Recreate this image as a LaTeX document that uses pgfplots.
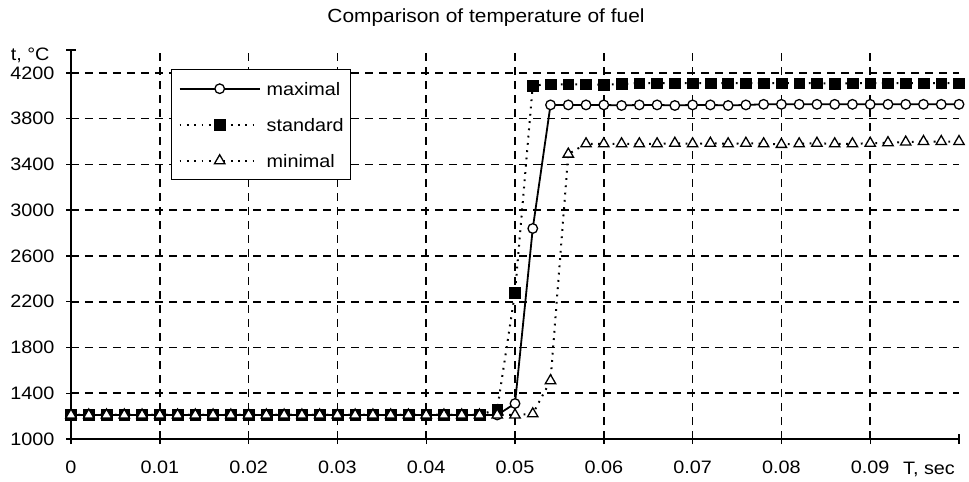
\documentclass[border=0pt]{standalone}
\usepackage{fontspec}
\setmainfont{Liberation Sans}[FakeStretch=1.1]
\usepackage{pgfplots}
\usepackage{pgfplotstable}
\pgfplotsset{compat=1.18}

\pgfplotstableread{
T      mx    st    mn
0.000  1210  1210  1210
0.002  1210  1210  1210
0.004  1210  1210  1210
0.006  1210  1210  1210
0.008  1210  1210  1210
0.010  1210  1210  1210
0.012  1210  1210  1210
0.014  1210  1210  1210
0.016  1210  1210  1210
0.018  1210  1210  1210
0.020  1210  1210  1210
0.022  1210  1210  1210
0.024  1210  1210  1210
0.026  1210  1210  1210
0.028  1210  1210  1210
0.030  1210  1210  1210
0.032  1210  1210  1210
0.034  1210  1210  1210
0.036  1210  1210  1210
0.038  1210  1210  1210
0.040  1210  1210  1210
0.042  1210  1210  1210
0.044  1210  1210  1210
0.046  1210  1210  1210
0.048  1210  1260  1210
0.050  1310  2280  1210
0.052  2840  4090  1220
0.054  3920  4100  1510
0.056  3920  4100  3490
0.058  3920  4100  3580
0.060  3920  4095  3580
0.062  3915  4105  3580
0.064  3920  4110  3580
0.066  3920  4110  3580
0.068  3915  4110  3585
0.070  3920  4110  3580
0.072  3920  4110  3585
0.074  3915  4110  3580
0.076  3920  4110  3585
0.078  3925  4110  3580
0.080  3925  4110  3575
0.082  3925  4110  3580
0.084  3925  4110  3585
0.086  3925  4105  3580
0.088  3925  4110  3580
0.090  3925  4110  3585
0.092  3925  4110  3590
0.094  3925  4110  3595
0.096  3925  4110  3600
0.098  3925  4110  3600
0.100  3925  4110  3600
}\fueldata

\begin{document}
\begin{tikzpicture}
\begin{axis}[
  scale only axis, width=888bp, height=389bp,
  xmin=0, xmax=0.1, ymin=1000, ymax=4400,
  axis x line=bottom, axis y line=left,
  axis line style={black, line width=1.6bp, -},
  xtick={0,0.01,0.02,0.03,0.04,0.05,0.06,0.07,0.08,0.09},
  ytick={1000,1400,1800,2200,2600,3000,3400,3800,4200},
  scaled ticks=false,
  /pgf/number format/assume math mode=true,
  /pgf/number format/1000 sep={},
  xticklabel style={/pgf/number format/fixed, /pgf/number format/precision=2, yshift=-13bp},
  yticklabel style={xshift=-8bp},
  extra x ticks={0.1}, extra x tick labels={},
  extra x tick style={grid=none},
  extra y ticks={4400}, extra y tick labels={},
  extra y tick style={grid=none},
  grid=major,
  major grid style={black, line width=1.6bp, dash pattern=on 8bp off 6bp},
  tick align=center, major tick length=10bp,
  tick style={black, line width=1.4bp},
  tick label style={font=\fontsize{18bp}{20bp}\selectfont},
  clip=false,
  legend style={at={(rel axis cs:0.1126,0.9511)}, anchor=north west,
    draw=black, line width=1.4bp, fill=white,
    font=\fontsize{18bp}{20bp}\selectfont,
    nodes={inner sep=0bp, text height=13bp, text depth=0bp},
    row sep=23bp, column sep=6bp, inner xsep=7bp, inner ysep=12.5bp,
    cells={anchor=west}},
  legend image code/.code={\draw[mark repeat=2,mark phase=2,#1] plot coordinates {(0bp,0bp) (40bp,0bp) (80bp,0bp)};},
]
\addplot[black, line width=1.8bp, mark=*, mark size=4.8bp,
  mark options={solid, fill=white, line width=1.3bp}] table[x=T, y=mx] {\fueldata};
\addlegendentry{maximal}
\addplot[black, line width=2bp, dash pattern=on 1.8bp off 5.5bp, mark=square*, mark size=5.4bp,
  mark options={solid, fill=black, line width=0.5bp}] table[x=T, y=st] {\fueldata};
\addlegendentry{standard}
\addplot[black, line width=2bp, dash pattern=on 1.8bp off 5.5bp, mark=triangle*, mark size=6bp,
  mark options={solid, fill=white, line width=1.3bp}] table[x=T, y=mn] {\fueldata};
\addlegendentry{minimal}
\coordinate (bl) at (rel axis cs:0,0);
\end{axis}
\path (bl) ++(-71bp,-43bp) rectangle ++(969bp,482bp);
\node[font=\fontsize{19bp}{22bp}\selectfont] at ([shift={(415bp,421bp)}]bl) {Comparison of temperature of fuel};
\node[font=\fontsize{18bp}{20bp}\selectfont] at ([shift={(858bp,-30bp)}]bl) {T, sec};
\node[font=\fontsize{18bp}{20bp}\selectfont, anchor=east] at ([shift={(-18bp,384bp)}]bl) {t, °C};
\end{tikzpicture}
\end{document}
